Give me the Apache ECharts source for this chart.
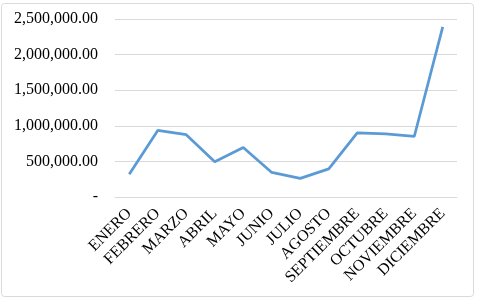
<!DOCTYPE html>
<html><head><meta charset="utf-8">
<script src="https://cdn.jsdelivr.net/npm/echarts@6/dist/echarts.min.js"></script>
<style>html,body{margin:0;padding:0;background:#fff}#c{width:477px;height:300px}</style>
</head><body><div id="c"></div>
<script>
const months = ['ENERO','FEBRERO','MARZO','ABRIL','MAYO','JUNIO','JULIO','AGOSTO','SEPTIEMBRE','OCTUBRE','NOVIEMBRE','DICIEMBRE'];
const values = [320000, 935000, 875000, 495000, 695000, 345000, 262000, 395000, 900000, 885000, 850000, 2390000];
const yTicks = [0, 500000, 1000000, 1500000, 2000000, 2500000];

function fmt(v){
  if (v === 0) return '-';
  return v.toLocaleString('en-US',{minimumFractionDigits:2, maximumFractionDigits:2});
}
const chart = echarts.init(document.getElementById('c'));
chart.setOption({
  animation:false,
  graphic:[{type:'rect', shape:{x:1.5,y:3.5,width:472,height:293,r:3}, style:{fill:'none', stroke:'#d9d9d9', lineWidth:1}}],
  grid:{left:115,right:20,top:19,bottom:103,containLabel:false},
  xAxis:{type:'category', data:months, boundaryGap:true,
    axisLine:{show:true,lineStyle:{color:'#d9d9d9'}}, axisTick:{show:false},
    axisLabel:{rotate:45, interval:0, margin:14, fontFamily:'Liberation Serif', fontSize:16, color:'#000'}},
  yAxis:{type:'value', min:yTicks[0], max:yTicks[yTicks.length-1], interval:500000,
    axisLine:{show:false}, axisTick:{show:false},
    splitLine:{lineStyle:{color:'#d9d9d9'}},
    axisLabel:{margin:17, fontFamily:'Liberation Serif', fontSize:16, color:'#000', formatter:fmt}},
  series:[{type:'line', data:values, symbol:'none', lineStyle:{color:'#5b9bd5', width:2.75}}]
});
</script></body></html>
